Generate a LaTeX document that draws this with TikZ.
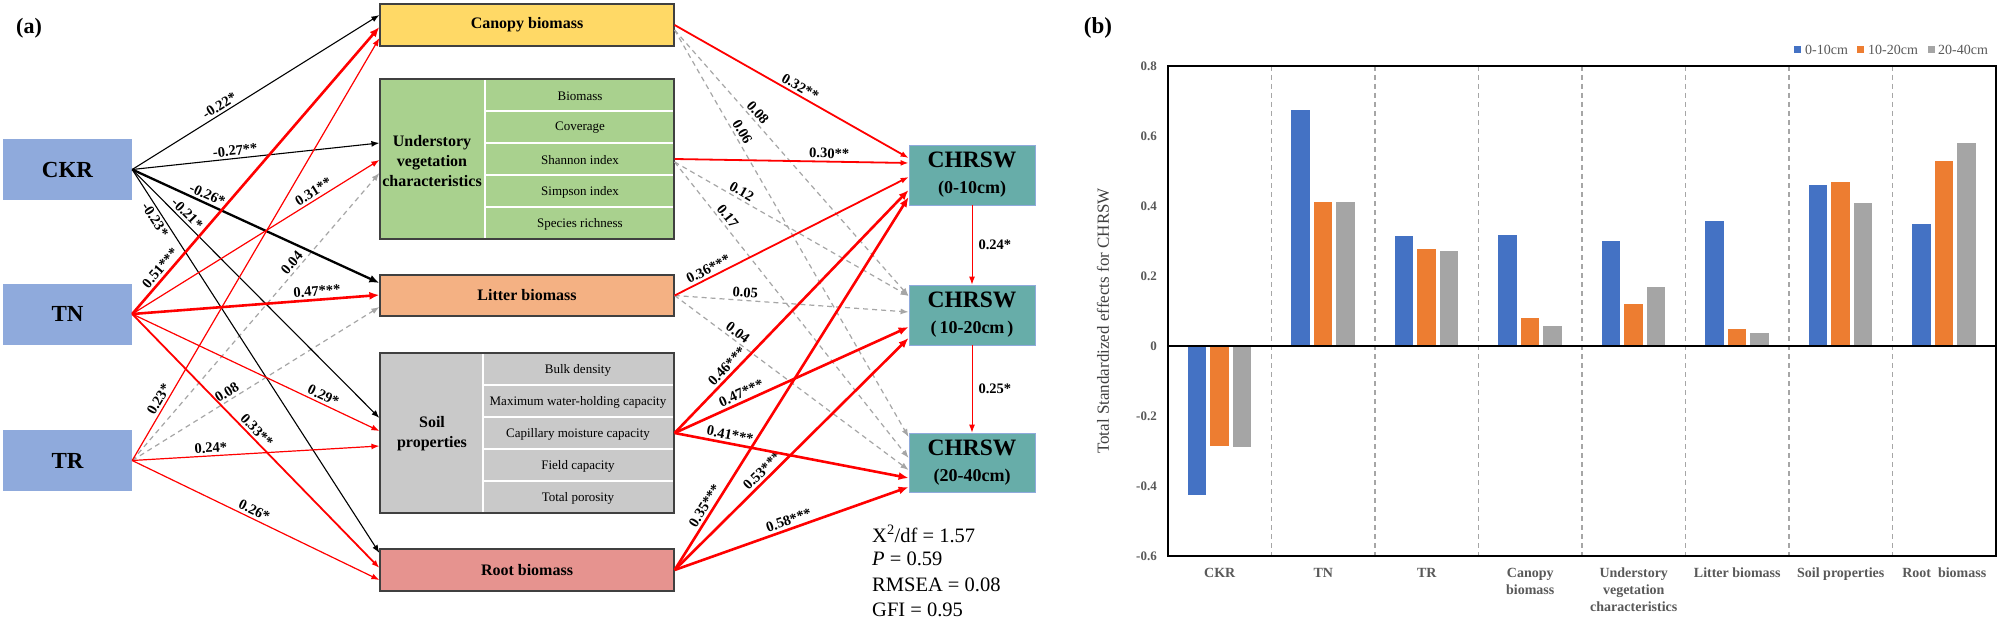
\documentclass[tikz,border=0pt]{standalone}
\usepackage{fontspec}
\setmainfont{Liberation Serif}
\usetikzlibrary{arrows.meta,calc}
\definecolor{srcC}{HTML}{8FAADC}
\definecolor{canopyC}{HTML}{FFD966}
\definecolor{underC}{HTML}{A9D18E}
\definecolor{litterC}{HTML}{F4B183}
\definecolor{soilC}{HTML}{C9C9C9}
\definecolor{rootC}{HTML}{E6938F}
\definecolor{chrC}{HTML}{67ADA9}
\definecolor{dashC}{HTML}{A6A6A6}
\definecolor{barA}{HTML}{4472C4}
\definecolor{barB}{HTML}{ED7D31}
\definecolor{barC}{HTML}{A5A5A5}
\definecolor{axtext}{HTML}{595959}
\tikzset{
  fs/.style 2 args={font=#1\fontsize{#2}{#2}\selectfont},
  srcbox/.style={rectangle, fill=srcC, minimum width=129pt, minimum height=61pt, inner sep=0pt,
    font=\bfseries\fontsize{23}{27}\selectfont},
  midbox/.style={rectangle, draw=black!75, line width=1.2pt, minimum width=294pt, inner sep=0pt,
    font=\bfseries\fontsize{16}{19}\selectfont},
  chrbox/.style={rectangle, fill=chrC, draw=srcC, line width=0.8pt, minimum width=126pt,
    minimum height=60pt, inner sep=0pt, align=center, font=\bfseries\fontsize{23.5}{27}\selectfont},
  rowtxt/.style={inner sep=0pt, font=\fontsize{13}{15}\selectfont},
  sidelab/.style={inner sep=0pt, align=center, font=\bfseries\fontsize{16}{20}\selectfont},
  lab/.style={sloped, above, inner sep=2.5pt, font=\bfseries\fontsize{14.5}{16}\selectfont},
  labB/.style={sloped, below, inner sep=2.5pt, font=\bfseries\fontsize{14.5}{16}\selectfont},
  tipS/.style={-{Latex[length=8pt,width=6pt]}},
  tipL/.style={-{Latex[length=10pt,width=8pt]}},
  blk/.style={draw=black, line width=1.1pt, tipS},
  blkT/.style={draw=black, line width=2.3pt, tipL},
  rd/.style={draw=red, line width=1.2pt, tipS},
  rdM/.style={draw=red, line width=1.8pt, tipS},
  rdT/.style={draw=red, line width=2.6pt, tipL},
  gd/.style={draw=dashC, line width=1.2pt, dash pattern=on 5pt off 4pt, tipS},
  whiteline/.style={draw=white, line width=1.5pt},
  stat/.style={anchor=west, inner sep=0pt, font=\fontsize{20.5}{22}\selectfont},
  ticklab/.style={anchor=east, inner sep=0pt, text=axtext, font=\bfseries\fontsize{13}{15}\selectfont},
  catlab/.style={anchor=north, inner sep=0pt, align=center, text=axtext, font=\bfseries\fontsize{14}{17}\selectfont},
  legtxt/.style={anchor=west, inner sep=0pt, text=axtext, font=\fontsize{14}{16}\selectfont},
  sepline/.style={draw=dashC, line width=1.3pt, dash pattern=on 5pt off 4pt},
}
\begin{document}
\begin{tikzpicture}[x=1pt,y=-1pt]
\useasboundingbox (0,0) rectangle (2000,623);
\fill[white] (0,0) rectangle (2000,623);

% ---------------- (a) ----------------
\node[fs={\bfseries}{22}] (pa) at (29,28) {(a)};

\node[srcbox] (ckr) at (67.5,169.5) {CKR};
\node[srcbox] (tn)  at (67.5,314) {TN};
\node[srcbox] (tr)  at (67.5,460.5) {TR};

\node[midbox, fill=canopyC, minimum height=42pt] (canopy) at (527,25) {Canopy biomass};
\node[midbox, fill=underC, minimum height=160pt] (under) at (527,159) {};
\node[midbox, fill=litterC, minimum height=41pt] (litter) at (527,295.5) {Litter biomass};
\node[midbox, fill=soilC, minimum height=160pt] (soil) at (527,433) {};
\node[midbox, fill=rootC, minimum height=42pt] (root) at (527,570) {Root biomass};

% understory internals
\draw[whiteline] (485,80) -- (485,238);
\foreach \yy in {111,143,175,207} \draw[whiteline] (485,\yy) -- (673,\yy);
\node[sidelab] (ulab) at (432,161) {Understory\\vegetation\\characteristics};
\node[rowtxt] (u1) at (580,96) {Biomass};
\node[rowtxt] (u2) at (580,128) {Coverage};
\node[rowtxt] (u3) at (580,160) {Shannon index};
\node[rowtxt] (u4) at (580,192) {Simpson index};
\node[rowtxt] (u5) at (580,224) {Species richness};

% soil internals
\draw[whiteline] (483,354) -- (483,512);
\foreach \yy in {385,417,449,481} \draw[whiteline] (483,\yy) -- (673,\yy);
\node[sidelab] (slab) at (432,434) {Soil\\properties};
\node[rowtxt] (s1) at (578,370) {Bulk density};
\node[rowtxt] (s2) at (578,402) {Maximum water-holding capacity};
\node[rowtxt] (s3) at (578,434) {Capillary moisture capacity};
\node[rowtxt] (s4) at (578,466) {Field capacity};
\node[rowtxt] (s5) at (578,498) {Total porosity};

% CHRSW boxes
\node[chrbox] (c1) at (972,175) {CHRSW\\[-1pt]{\fontsize{18}{20}\selectfont (0-10cm)}};
\node[chrbox] (c2) at (972,315) {CHRSW\\[-1pt]{\fontsize{18}{20}\selectfont (\,10-20cm\,)}};
\node[chrbox, minimum height=59pt] (c3) at (972,462.5) {CHRSW\\[-1pt]{\fontsize{18}{20}\selectfont (20-40cm)}};

% dashed (draw first)
\draw[gd] (tr.east) -- node[lab,pos=.67]{0.04} ([yshift=-14pt]under.west);
\draw[gd] (tr.east) -- node[lab,pos=.4]{0.08} ([yshift=-11.5pt]litter.west);
\draw[gd] ([yshift=-5pt]canopy.east) -- node[lab,pos=.33]{0.08} ([yshift=19pt]c2.west);
\draw[gd] ([yshift=-5pt]canopy.east) -- node[lab,pos=.26]{0.06} ([yshift=25.5pt]c3.west);
\draw[gd] ([yshift=-3pt]under.east) -- node[lab,pos=.27]{0.12} ([yshift=19pt]c2.west);
\draw[gd] ([yshift=-3pt]under.east) -- node[lab,pos=.2]{0.17} ([yshift=4.5pt]c3.west);
\draw[gd] (litter.east) -- node[lab,pos=.3]{0.05} ([yshift=3pt]c2.west);
\draw[gd] (litter.east) -- node[lab,pos=.25]{0.04} ([yshift=-7.5pt]c3.west);

% CKR
\draw[blk] (ckr.east) -- node[lab,pos=.37]{-0.22*} ([yshift=10pt]canopy.west);
\draw[blk] (ckr.east) -- node[lab,pos=.42]{-0.27**} ([yshift=16pt]under.west);
\draw[blkT] (ckr.east) -- node[lab,pos=.29]{-0.26*} ([yshift=12.5pt]litter.west);
\draw[blk] (ckr.east) -- node[lab,pos=.2]{-0.21*} ([yshift=15pt]soil.west);
\draw[blk] (ckr.east) -- node[labB,pos=.12]{-0.23*} ([yshift=17pt]root.west);

% TN
\draw[rdT] (tn.east) -- node[lab,pos=.14]{0.51***} ([yshift=-2pt]canopy.west);
\draw[rd] (tn.east) -- node[lab,pos=.75]{0.31**} ([yshift=-1pt]under.west);
\draw[rdT] (tn.east) -- node[lab,pos=.75]{0.47***} ([yshift=0.5pt]litter.west);
\draw[rd] (tn.east) -- node[lab,pos=.76]{0.29*} ([yshift=2pt]soil.west);
\draw[rdM] (tn.east) -- node[lab,pos=.48]{0.33**} ([yshift=2pt]root.west);

% TR
\draw[rd] (tr.east) -- node[lab,pos=.135]{0.23*} ([yshift=-13pt]canopy.west);
\draw[rd] (tr.east) -- node[lab,pos=.32]{0.24*} ([yshift=-13pt]soil.west);
\draw[rd] (tr.east) -- node[lab,pos=.48]{0.26*} ([yshift=-10pt]root.west);

% middle -> CHRSW
\draw[rdM] (canopy.east) -- node[lab,pos=.52]{0.32**} ([yshift=17pt]c1.west);
\draw[rdM] (under.east) -- node[lab,pos=.66]{0.30**} ([yshift=12pt]c1.west);
\draw[rdM] (litter.east) -- node[lab,pos=.16]{0.36***} ([yshift=-2pt]c1.west);
\draw[rdT] (soil.east) -- node[lab,pos=.25]{0.46***} ([yshift=-15pt]c1.west);
\draw[rdT] (root.east) -- node[lab,pos=.16]{0.35***} ([yshift=-22pt]c1.west);
\draw[rdT] (soil.east) -- node[lab,pos=.30]{0.47***} ([yshift=-12pt]c2.west);
\draw[rdT] (root.east) -- node[lab,pos=.4]{0.53***} ([yshift=-23pt]c2.west);
\draw[rdT] (soil.east) -- node[lab,pos=.23]{0.41***} ([yshift=-15.5pt]c3.west);
\draw[rdT] (root.east) -- node[lab,pos=.5]{0.58***} ([yshift=-24.5pt]c3.west);

% vertical
\draw[rd, line width=1pt] (c1.south) -- node[right, inner sep=6pt, font=\bfseries\fontsize{14.5}{16}\selectfont]{0.24*} (c2.north);
\draw[rd, line width=1pt] (c2.south) -- node[right, inner sep=6pt, font=\bfseries\fontsize{14.5}{16}\selectfont]{0.25*} (c3.north);

% stats
\node[stat] (st1) at (872,534) {X\textsuperscript{2}/df = 1.57};
\node[stat] (st2) at (872,559) {\textit{P} = 0.59};
\node[stat] (st3) at (872,585) {RMSEA = 0.08};
\node[stat] (st4) at (872,610) {GFI = 0.95};

% ---------------- (b) ----------------
\node[fs={\bfseries}{23}] (pb) at (1098,28) {(b)};

\foreach \k in {1,...,7} \draw[sepline] ({1168+103.5*\k},66) -- ({1168+103.5*\k},556);

\foreach \k/\a/\b/\c in {0/-0.425/-0.285/-0.288, 1/0.675/0.411/0.411, 2/0.313/0.276/0.271,
  3/0.318/0.079/0.058, 4/0.299/0.119/0.169, 5/0.358/0.048/0.038, 6/0.459/0.469/0.409,
  7/0.348/0.529/0.579} {
  \pgfmathsetmacro\gx{1168+103.5*\k}
  \fill[barA] ({\gx+19.5},346) rectangle ({\gx+38},{346-350*(\a)});
  \fill[barB] ({\gx+42},346) rectangle ({\gx+60.5},{346-350*(\b)});
  \fill[barC] ({\gx+64.5},346) rectangle ({\gx+83},{346-350*(\c)});
}

\draw[line width=1.5pt] (1168,66) rectangle (1996,556);
\draw[line width=1.5pt] (1168,346) -- (1996,346);

\foreach \v/\t in {0.8/0.8, 0.6/0.6, 0.4/0.4, 0.2/0.2, 0/0, -0.2/-0.2, -0.4/-0.4, -0.6/-0.6}
  \node[ticklab] at (1157,{346-350*(\v)}) {\t};

\node[rotate=90, inner sep=0pt, text=black!75, font=\fontsize{17}{19}\selectfont] (ylab) at (1103,321) {Total Standardized effects for CHRSW};

\node[catlab] (k0) at (1219.75,568) {CKR};
\node[catlab] (k1) at (1323.25,568) {TN};
\node[catlab] (k2) at (1426.75,568) {TR};
\node[catlab] (k3) at (1530.25,568) {Canopy\\biomass};
\node[catlab] (k4) at (1633.75,568) {Understory\\vegetation\\characteristics};
\node[catlab] (k5) at (1737.25,568) {Litter biomass};
\node[catlab] (k6) at (1840.75,568) {Soil properties};
\node[catlab] (k7) at (1944.25,568) {Root\ \ biomass};

% legend
\fill[barA] (1794,46) rectangle (1801,53);
\node[legtxt] (lg1) at (1805,50) {0-10cm};
\fill[barB] (1857,46) rectangle (1864,53);
\node[legtxt] (lg2) at (1868,50) {10-20cm};
\fill[barC] (1928,46) rectangle (1935,53);
\node[legtxt] (lg3) at (1938,50) {20-40cm};
\end{tikzpicture}
\end{document}
